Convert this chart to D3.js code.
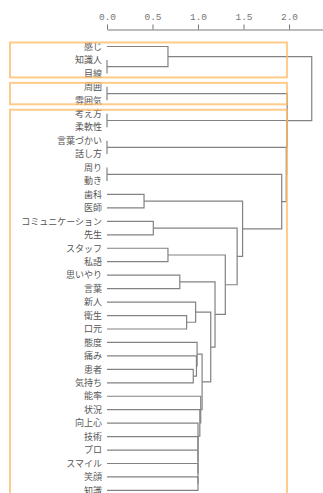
<!DOCTYPE html>
<html>
<head>
<meta charset="utf-8">
<script src="https://cdn.jsdelivr.net/npm/d3@7"></script>
<style>
  body { margin: 0; background: #fff; }
  svg { display: block; }
</style>
</head>
<body>
<script>
// Leaf labels in dendrogram order (top to bottom)
const labels = [
  "感じ", "知識人", "目線", "周囲", "雰囲気", "考え方", "柔軟性", "言葉づかい", "話し方",
  "周り", "動き", "歯科", "医師", "コミュニケーション", "先生", "スタッフ", "私語",
  "思いやり", "言葉", "新人", "衛生", "口元", "態度", "痛み", "患者", "気持ち",
  "能率", "状況", "向上心", "技術", "プロ", "スマイル", "笑顔", "知識"
];

// Merge steps, hclust style: negative = leaf number (1-based), positive = earlier step
const merges = [
  [-2, -3], [-1, 1], [-4, -5], [-6, -7], [-8, -9], [-10, -11],
  [-12, -13], [-14, -15], [-16, -17], [-18, -19], [-21, -22], [-20, 11],
  [-25, -26], [-24, 13], [-23, 14],
  [-33, -34], [-32, 16], [-31, 17], [-30, 18], [-29, 19], [-28, 20], [-27, 21],
  [15, 22], [12, 23], [10, 24], [9, 25], [8, 26], [7, 27], [6, 28],
  [5, 29], [4, 30], [3, 31], [2, 32]
];

// Height of each merge step
const mergeHeights = [
  0, 0.67, 0, 0, 0, 0,
  0.407, 0.509, 0.67, 0.80, 0.875, 0.974,
  0.948, 0.983, 0.99,
  1.0, 1.0, 1.0, 1.0, 1.0, 1.02, 1.03,
  1.045, 1.14, 1.187, 1.30, 1.43, 1.49, 1.92,
  1.97, 1.975, 1.98, 2.25
];

const axisTicks = [0, 0.5, 1.0, 1.5, 2.0];
const axisMax = 2.5;
const clusterCount = 3;

const W = 323, H = 493;
const svg = d3.select("body").append("svg")
  .attr("width", W).attr("height", H);

// Build the tree from the merge table
const built = [];
const ref = r => r < 0 ? { name: labels[-r - 1], height: 0 } : built[r - 1];
merges.forEach(([a, b], i) => {
  built.push({ height: mergeHeights[i], children: [ref(a), ref(b)] });
});
const root = d3.hierarchy(built[built.length - 1]);

const x = d3.scaleLinear().domain([0, axisMax]).range([107, 334.5]);
const y = d3.scalePoint().domain(labels).range([46.5, 490.4]);

// Node position = midpoint of its children's positions
root.eachAfter(n => {
  n.py = n.children
    ? (n.children[0].py + n.children[n.children.length - 1].py) / 2
    : y(n.data.name);
});

// Axis along the top
const axis = svg.append("g")
  .attr("transform", "translate(0,29.5)")
  .call(d3.axisTop(x)
    .tickValues(axisTicks)
    .tickFormat(d3.format(".1f"))
    .tickSize(5)
    .tickSizeOuter(0)
    .tickPadding(5));
axis.select(".domain").attr("stroke", "#777");
axis.selectAll(".tick line").attr("stroke", "#777");
axis.selectAll(".tick text")
  .attr("fill", "#777")
  .style("font-family", "'Liberation Mono', 'DejaVu Sans Mono', monospace")
  .style("font-size", "9.5px");

// Elbow links
svg.append("g")
  .selectAll("path")
  .data(root.descendants().filter(d => d.children))
  .join("path")
  .attr("d", d => {
    const [a, b] = d.children;
    return `M${x(a.data.height)},${a.py}H${x(d.data.height)}V${b.py}H${x(b.data.height)}`;
  })
  .attr("fill", "none")
  .attr("stroke", "#828282")
  .attr("stroke-width", 1.2);

// Leaf labels
svg.append("g")
  .selectAll("text")
  .data(root.leaves())
  .join("text")
  .attr("x", 102)
  .attr("y", d => d.py)
  .attr("dy", "0.36em")
  .attr("text-anchor", "end")
  .attr("fill", "#555")
  .style("font-family", "'Noto Sans CJK JP', sans-serif")
  .style("font-size", "9px")
  .text(d => d.data.name);

// Cluster boxes from cutting the tree into clusterCount groups
const sortedH = mergeHeights.slice().sort((a, b) => b - a);
const cutH = (sortedH[clusterCount - 2] + sortedH[clusterCount - 1]) / 2;
let clusters = [root];
while (clusters.length < clusterCount) {
  clusters.sort((a, b) => b.data.height - a.data.height);
  const top = clusters.shift();
  clusters.push(...top.children);
}
svg.append("g")
  .selectAll("rect")
  .data(clusters)
  .join("rect")
  .attr("x", 10)
  .attr("y", c => d3.min(c.leaves(), l => l.py) - 4)
  .attr("width", x(cutH) - 10)
  .attr("height", c => d3.max(c.leaves(), l => l.py) - d3.min(c.leaves(), l => l.py) + 8)
  .attr("fill", "none")
  .attr("stroke", "#ffb960")
  .attr("stroke-opacity", 0.75)
  .attr("stroke-width", 2);
</script>
</body>
</html>
